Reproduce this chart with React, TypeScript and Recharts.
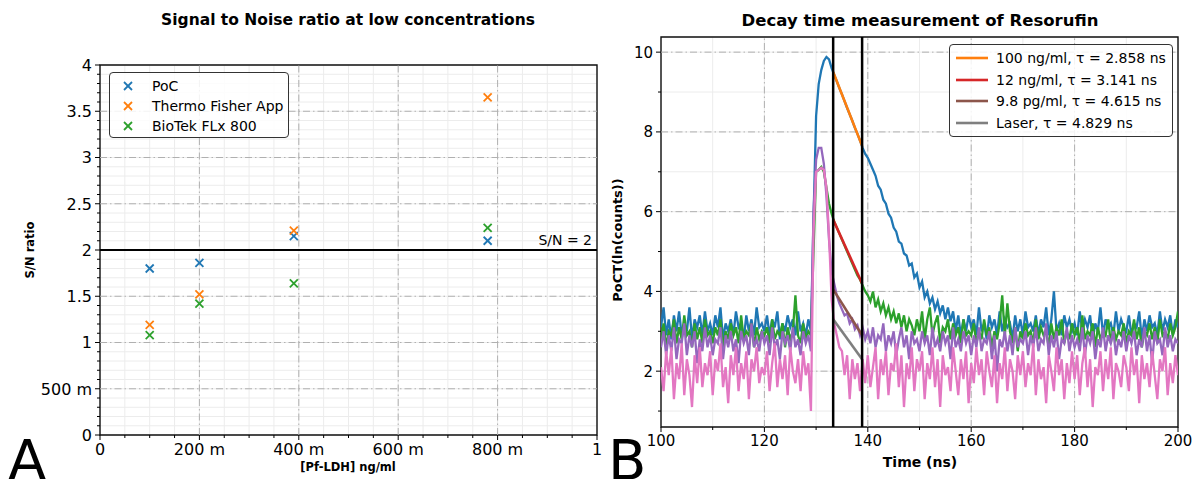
import React from "react";
import {
  ScatterChart,
  Scatter,
  LineChart,
  Line,
  XAxis,
  YAxis,
  CartesianGrid,
  ReferenceLine,
  ReferenceArea,
} from "recharts";

const FONT = "'DejaVu Sans', sans-serif";

// ---------- panel A : signal to noise ----------
const concentrations = [0.1, 0.2, 0.39, 0.78];
const pocRatio = [1.8, 1.86, 2.15, 2.1];
const thermoRatio = [1.19, 1.52, 2.21, 3.65];
const biotekRatio = [1.08, 1.42, 1.64, 2.24];

const snSeries = [
  { name: "PoC", color: "#1f77b4", values: pocRatio },
  { name: "Thermo Fisher App", color: "#ff7f0e", values: thermoRatio },
  { name: "BioTek FLx 800", color: "#2ca02c", values: biotekRatio },
];

const aXTicks = [0, 0.05, 0.1, 0.15, 0.2, 0.25, 0.3, 0.35, 0.4, 0.45, 0.5, 0.55, 0.6, 0.65, 0.7, 0.75, 0.8, 0.85, 0.9, 0.95, 1];
const aXMajor = [0, 0.2, 0.4, 0.6, 0.8, 1];
const aXLabels = ["0", "200 m", "400 m", "600 m", "800 m", "1"];
const aYTicks = [
  0, 0.1, 0.2, 0.3, 0.4, 0.5, 0.6, 0.7, 0.8, 0.9, 1, 1.1, 1.2, 1.3, 1.4, 1.5, 1.6, 1.7, 1.8, 1.9, 2,
  2.1, 2.2, 2.3, 2.4, 2.5, 2.6, 2.7, 2.8, 2.9, 3, 3.1, 3.2, 3.3, 3.4, 3.5, 3.6, 3.7, 3.8, 3.9, 4,
];
const aYMajor = [0, 0.5, 1, 1.5, 2, 2.5, 3, 3.5, 4];
const aYLabels = ["0", "500 m", "1", "1.5", "2", "2.5", "3", "3.5", "4"];
const threshold = 2;

// ---------- panel B : decay traces, one sample every 0.5 ns from 100 ns ----------
const sampleStart = 100;
const sampleStep = 0.5;

const counts100ng = [
  3.1, 3.6, 2.9, 3.3, 2.8, 3.4, 3.0, 3.5, 2.9, 3.2, 3.0, 3.6, 2.8, 3.3, 3.1, 3.4, 2.9, 3.5, 3.0, 3.2,
  2.9, 3.4, 3.1, 3.6, 2.8, 3.2, 3.0, 3.3, 2.9, 3.5, 3.1, 3.2, 2.8, 3.4, 3.0, 3.3, 2.9, 3.6, 3.1, 3.2,
  3.0, 3.4, 2.9, 3.3, 3.1, 3.5, 2.8, 3.2, 3.0, 3.4, 3.1, 3.3, 2.9, 3.5, 3.0, 3.2, 2.9, 3.3, 3.0, 5.8,
  8.4, 9.2, 9.55, 9.78, 9.88, 9.82, 9.6, 9.43, 9.27, 9.1, 8.94, 8.77, 8.6, 8.44, 8.28, 8.1, 7.95, 7.78, 7.6, 7.45,
  7.35, 7.2, 7.05, 6.9, 6.65, 6.55, 6.3, 6.2, 5.95, 5.85, 5.6, 5.5, 5.25, 5.2, 4.95, 4.9, 4.65, 4.7, 4.35, 4.45,
  4.1, 4.25, 3.85, 4.0, 3.7, 3.85, 3.55, 3.75, 3.45, 3.65, 3.3, 3.6, 3.25, 3.5, 3.0, 3.4, 2.9, 3.3, 3.0, 3.4,
  3.1, 3.3, 2.9, 3.6, 3.0, 3.2, 2.8, 3.4, 3.1, 3.3, 2.9, 3.5, 3.0, 3.3, 3.1, 3.2, 2.8, 3.4, 3.0, 3.3,
  2.9, 3.5, 3.1, 3.2, 3.0, 3.4, 2.9, 3.3, 3.1, 3.6, 2.9, 3.3, 4.0, 3.0, 3.2, 2.9, 3.4, 3.1, 3.3, 3.0,
  3.2, 2.9, 3.5, 3.0, 3.3, 3.1, 3.4, 2.8, 3.2, 3.0, 3.6, 2.9, 3.3, 3.1, 3.2, 2.9, 3.5, 3.0, 3.3, 3.1,
  3.0, 3.4, 2.9, 3.2, 3.1, 3.5, 2.8, 3.3, 3.0, 3.4, 3.1, 3.2, 2.9, 3.5, 3.0, 3.3, 3.1, 3.4, 2.9, 3.3,
  3.1,
];

const counts12ng = [
  2.8, 3.2, 2.6, 3.0, 2.9, 3.3, 2.7, 3.1, 2.8, 3.4, 2.9, 3.0, 2.6, 3.2, 2.8, 3.1, 2.7, 3.3, 2.9, 3.0,
  2.7, 3.1, 2.9, 3.3, 2.6, 3.0, 2.8, 3.2, 2.9, 3.1, 2.7, 3.4, 2.8, 3.0, 2.9, 3.2, 2.6, 3.1, 2.8, 3.0,
  2.9, 3.1, 2.7, 3.3, 2.8, 3.0, 2.9, 3.2, 2.6, 3.1, 2.8, 3.0, 3.9, 2.9, 2.7, 3.2, 2.8, 3.0, 2.9, 5.0,
  7.0, 7.05, 7.12, 7.0, 6.6, 6.2, 5.95, 5.75, 5.6, 5.45, 5.3, 5.15, 5.0, 4.85, 4.7, 4.55, 4.4, 4.3, 4.15, 4.0,
  3.9, 3.75, 4.0, 3.6, 3.8, 3.5, 3.7, 3.4, 3.6, 3.3, 3.5, 3.2, 3.45, 3.1, 3.4, 3.0, 3.3, 3.15, 2.9, 3.3,
  3.0, 3.5, 2.8, 3.3, 3.6, 2.9, 3.2, 3.4, 2.7, 3.1, 3.0, 3.3, 2.8, 3.2, 2.9, 3.1, 2.7, 3.3, 2.9, 3.0,
  2.9, 3.2, 2.7, 3.0, 2.8, 3.3, 2.9, 3.1, 2.6, 3.0, 2.8, 3.2, 3.9, 2.9, 3.7, 3.0, 2.7, 3.1, 2.5, 3.0,
  2.8, 3.2, 2.9, 3.0, 2.7, 3.3, 2.8, 3.1, 2.9, 3.0, 2.6, 3.2, 2.8, 3.1, 2.9, 3.3, 2.7, 3.0, 2.8, 3.2,
  2.9, 3.1, 2.7, 3.4, 2.8, 3.0, 2.9, 3.2, 2.6, 3.1, 2.8, 3.0, 2.9, 3.3, 2.7, 3.1, 2.8, 3.0, 2.9, 3.2,
  2.7, 3.0, 2.9, 3.3, 2.8, 3.1, 2.6, 3.0, 2.9, 3.2, 2.8, 3.1, 2.7, 3.3, 2.9, 3.0, 2.8, 3.2, 2.9, 3.1,
  3.5,
];

const counts9pg = [
  2.6, 3.0, 2.4, 2.9, 2.5, 3.1, 2.3, 2.8, 2.7, 3.2, 2.4, 2.9, 2.6, 3.0, 2.2, 2.8, 2.5, 3.1, 2.6, 2.9,
  2.4, 2.8, 2.7, 3.1, 2.3, 2.9, 2.6, 3.0, 2.5, 2.8, 2.2, 3.0, 2.7, 2.9, 2.4, 3.2, 2.6, 2.8, 2.5, 3.0,
  2.7, 2.9, 2.4, 3.1, 2.6, 2.8, 2.3, 3.0, 2.7, 2.9, 2.5, 3.1, 2.6, 2.8, 2.4, 3.0, 2.7, 2.9, 2.5, 6.0,
  7.3, 7.6, 7.6, 7.2, 6.4, 5.3, 4.5, 4.2, 3.9, 3.7, 3.55, 3.4, 3.45, 3.2, 3.3, 3.05, 3.15, 2.9, 3.1, 2.8,
  3.0, 2.7, 3.1, 2.6, 2.9, 2.8, 3.2, 2.5, 2.9, 2.7, 3.0, 2.4, 2.8, 3.1, 2.6, 2.9, 2.3, 3.0, 2.7, 2.8,
  2.5, 3.0, 2.7, 2.9, 2.4, 3.1, 2.6, 2.8, 2.5, 3.0, 2.7, 2.9, 2.3, 3.1, 2.6, 2.8, 2.5, 3.0, 2.7, 2.9,
  2.4, 2.9, 2.6, 3.1, 2.5, 2.8, 2.7, 3.0, 2.3, 2.9, 2.0, 2.8, 2.6, 3.0, 2.5, 2.9, 2.4, 3.1, 2.6, 2.8,
  2.7, 3.0, 2.4, 2.9, 2.6, 3.1, 2.5, 2.8, 2.7, 3.2, 2.4, 2.9, 2.6, 3.0, 2.3, 2.8, 2.7, 3.1, 2.5, 2.9,
  2.6, 2.8, 2.5, 3.1, 2.4, 2.9, 2.7, 3.0, 2.3, 2.8, 2.6, 3.1, 2.5, 2.9, 2.7, 3.0, 2.4, 2.8, 2.6, 3.0,
  2.5, 2.9, 2.7, 3.0, 2.4, 2.8, 2.6, 3.1, 2.5, 2.9, 2.2, 3.0, 2.7, 2.8, 2.4, 3.1, 2.6, 2.9, 2.5, 2.8,
  2.7,
];

const countsLaser = [
  2.1, 1.5, 2.5, 1.9, 2.6, 1.3, 2.2, 1.8, 2.7, 1.4, 2.3, 1.9, 1.1, 2.4, 1.7, 2.6, 1.6, 2.2, 1.9, 2.5,
  1.4, 2.3, 2.0, 2.7, 1.6, 2.1, 1.2, 2.4, 1.9, 2.6, 1.5, 2.2, 1.8, 2.5, 1.3, 2.3, 2.0, 2.6, 1.7, 2.1,
  1.9, 2.5, 1.5, 2.2, 2.7, 1.6, 2.3, 1.8, 2.4, 1.4, 2.6, 2.0, 1.7, 2.3, 1.5, 2.5, 1.9, 2.2, 1.0, 5.5,
  7.0, 7.05, 7.1, 7.05, 6.6, 5.4, 3.8, 3.2, 2.9, 2.6, 2.5, 1.9, 2.4, 1.3, 2.3, 1.8, 2.2, 1.5, 2.3, 1.7,
  2.4, 1.6, 2.1, 2.6, 1.3, 2.3, 1.9, 2.5, 1.4, 2.2, 2.0, 2.7, 1.6, 2.4, 1.1, 2.2, 1.8, 2.6, 1.5, 2.3,
  2.0, 2.5, 1.3, 2.2, 1.8, 2.6, 1.6, 2.3, 1.1, 2.4, 1.9, 2.1, 1.5, 2.6, 2.0, 1.4, 2.3, 1.8, 2.5, 1.2,
  2.2, 1.7, 2.6, 1.9, 2.3, 1.4, 2.5, 2.0, 1.6, 2.4, 1.2, 2.2, 1.8, 2.6, 1.5, 2.3, 2.0, 1.3, 2.4, 1.9,
  2.5, 1.6, 2.2, 1.9, 2.7, 1.4, 2.3, 1.8, 2.1, 1.2, 2.4, 2.0, 1.5, 2.6, 1.9, 2.3, 1.3, 2.2, 1.7, 2.5,
  1.8, 2.4, 1.4, 2.2, 2.6, 1.6, 2.3, 1.1, 2.1, 1.9, 2.5, 1.5, 2.3, 1.8, 2.6, 1.3, 2.2, 2.0, 1.6, 2.4,
  2.1, 1.5, 2.6, 1.9, 2.3, 1.2, 2.4, 1.8, 2.2, 1.6, 2.5, 1.9, 1.3, 2.3, 2.0, 2.6, 1.4, 2.2, 1.7, 2.4,
  1.9,
];

// fitted exponential decays (straight in ln), drawn between the two gate markers
const fitWindow = [133.3, 138.9];
const fit100ng = [9.5, 7.65];
const fit12ng = [5.8, 4.2];
const fit9pg = [4.05, 2.9];
const fitLaser = [3.3, 2.3];

const decaySeries = [
  { name: "100 ng/ml, τ = 2.858 ns", counts: counts100ng, dataColor: "#1f77b4", fit: fit100ng, fitColor: "#ff7f0e" },
  { name: "12 ng/ml, τ = 3.141 ns", counts: counts12ng, dataColor: "#2ca02c", fit: fit12ng, fitColor: "#d62728" },
  { name: "9.8 pg/ml, τ = 4.615 ns", counts: counts9pg, dataColor: "#9467bd", fit: fit9pg, fitColor: "#8c564b" },
  { name: "Laser, τ = 4.829 ns", counts: countsLaser, dataColor: "#e377c2", fit: fitLaser, fitColor: "#7f7f7f" },
];

const bXTicks = [100, 110, 120, 130, 140, 150, 160, 170, 180, 190, 200];
const bXMajor = [100, 120, 140, 160, 180, 200];
const bXLabels = ["100", "120", "140", "160", "180", "200"];
const bYTicks = [1, 2, 3, 4, 5, 6, 7, 8, 9, 10];
const bYMajor = [2, 4, 6, 8, 10];
const bYLabels = ["2", "4", "6", "8", "10"];
const bYDomain = [0.6, 10.38];

const toPoints = (vals: number[]) => vals.map((v, i) => ({ t: sampleStart + i * sampleStep, v }));

// ---------- helpers ----------
function bottomTick(majors: number[], labels: string[], fontSize: number) {
  return (props: any) => {
    const { x, y, payload } = props;
    const k = majors.indexOf(payload.value);
    return (
      <g>
        <line x1={x} x2={x} y1={y} y2={y + (k >= 0 ? 5 : 3)} stroke="#000" strokeWidth={1} />
        {k >= 0 && (
          <text x={x} y={y + 7} dy="0.8em" textAnchor="middle" fontSize={fontSize} fontFamily={FONT} fill="#000">
            {labels[k]}
          </text>
        )}
      </g>
    );
  };
}

function leftTick(majors: number[], labels: string[], fontSize: number) {
  return (props: any) => {
    const { x, y, payload } = props;
    const k = majors.indexOf(payload.value);
    return (
      <g>
        <line x1={x - (k >= 0 ? 5 : 3)} x2={x} y1={y} y2={y} stroke="#000" strokeWidth={1} />
        {k >= 0 && (
          <text x={x - 8} y={y} dy="0.36em" textAnchor="end" fontSize={fontSize} fontFamily={FONT} fill="#000">
            {labels[k]}
          </text>
        )}
      </g>
    );
  };
}

const cross = (color: string) => (props: any) => {
  const { cx, cy } = props;
  return (
    <g stroke={color} strokeWidth={1.8}>
      <line x1={cx - 4} y1={cy - 4} x2={cx + 4} y2={cy + 4} />
      <line x1={cx - 4} y1={cy + 4} x2={cx + 4} y2={cy - 4} />
    </g>
  );
};

const abs = (x: number, y: number, extra: React.CSSProperties = {}): React.CSSProperties => ({
  position: "absolute",
  left: x,
  top: y,
  transform: "translate(-50%, -50%)",
  whiteSpace: "nowrap",
  fontFamily: FONT,
  color: "#000",
  ...extra,
});

const MAJOR_STROKE = "#b0b0b0";
const MAJOR_DASH = "7 3 1.5 3";
const MINOR_GRID = "#ececec";

export default function App() {
  return (
    <div style={{ position: "absolute", left: 0, top: 0, width: 1195, height: 479, background: "#fff", overflow: "hidden" }}>
      {/* panel A */}
      <div style={{ position: "absolute", left: 0, top: 0 }}>
        <ScatterChart width={612} height={479} margin={{ top: 65, right: 15, bottom: 4, left: 0 }}>
          <CartesianGrid stroke={MINOR_GRID} />
          <XAxis
            type="number"
            dataKey="x"
            domain={[0, 1]}
            ticks={aXTicks}
            interval={0}
            height={40}
            tickSize={0}
            tickMargin={0}
            axisLine={false}
            tick={bottomTick(aXMajor, aXLabels, 16)}
          />
          <YAxis
            type="number"
            dataKey="y"
            domain={[0, 4]}
            ticks={aYTicks}
            interval={0}
            width={100}
            tickSize={0}
            tickMargin={0}
            axisLine={false}
            tick={leftTick(aYMajor, aYLabels, 16)}
          />
          {aXMajor.slice(1, -1).map((v) => (
            <ReferenceLine key={"ax" + v} x={v} stroke={MAJOR_STROKE} strokeDasharray={MAJOR_DASH} />
          ))}
          {aYMajor.slice(1, -1).map((v) => (
            <ReferenceLine key={"ay" + v} y={v} stroke={MAJOR_STROKE} strokeDasharray={MAJOR_DASH} />
          ))}
          <ReferenceArea x1={0} x2={1} y1={0} y2={4} fill="none" stroke="#111" strokeWidth={1.4} ifOverflow="visible" />
          <ReferenceLine
            y={threshold}
            stroke="#000"
            strokeWidth={2}
            label={{ value: "S/N = 2", position: "insideBottomRight", fill: "#000", fontSize: 14, fontFamily: FONT }}
          />
          {snSeries.map((s) => (
            <Scatter
              key={s.name}
              name={s.name}
              data={concentrations.map((c, i) => ({ x: c, y: s.values[i] }))}
              shape={cross(s.color)}
              isAnimationActive={false}
            />
          ))}
        </ScatterChart>
      </div>

      <div style={abs(348, 20, { fontSize: 15.5, fontWeight: "bold" })}>Signal to Noise ratio at low concentrations</div>
      <div style={abs(348, 467, { fontSize: 11.5, fontWeight: "bold" })}>[Pf-LDH] ng/ml</div>
      <div style={abs(30, 250, { fontSize: 11.5, fontWeight: "bold", transform: "translate(-50%, -50%) rotate(-90deg)" })}>
        S/N ratio
      </div>
      <div style={{ position: "absolute", left: 8, top: 432, fontSize: 56, fontFamily: FONT, lineHeight: "56px" }}>A</div>

      <div
        style={{
          position: "absolute",
          left: 109,
          top: 72,
          width: 180,
          height: 66,
          boxSizing: "border-box",
          border: "1.3px solid #333",
          borderRadius: 4,
          background: "rgba(255,255,255,0.85)",
          fontFamily: FONT,
          fontSize: 14,
          whiteSpace: "nowrap",
        }}
      >
        {snSeries.map((s, i) => (
          <div key={s.name} style={{ position: "absolute", left: 0, top: 3 + i * 20, height: 20, display: "flex", alignItems: "center" }}>
            <svg width={42} height={20}>
              <g stroke={s.color} strokeWidth={1.8}>
                <line x1={14} y1={6} x2={22} y2={14} />
                <line x1={14} y1={14} x2={22} y2={6} />
              </g>
            </svg>
            <span>{s.name}</span>
          </div>
        ))}
      </div>

      {/* panel B */}
      <div style={{ position: "absolute", left: 600, top: 0 }}>
        <LineChart width={595} height={479} margin={{ top: 37, right: 17, bottom: 25, left: 0 }}>
          <CartesianGrid stroke={MINOR_GRID} />
          <XAxis
            type="number"
            dataKey="t"
            domain={[100, 200]}
            ticks={bXTicks}
            interval={0}
            height={27}
            tickSize={0}
            tickMargin={0}
            axisLine={false}
            allowDataOverflow
            tick={bottomTick(bXMajor, bXLabels, 15)}
          />
          <YAxis
            type="number"
            domain={bYDomain}
            ticks={bYTicks}
            interval={0}
            width={61}
            tickSize={0}
            tickMargin={0}
            axisLine={false}
            allowDataOverflow
            tick={leftTick(bYMajor, bYLabels, 15)}
          />
          {bXMajor.slice(1, -1).map((v) => (
            <ReferenceLine key={"bx" + v} x={v} stroke={MAJOR_STROKE} strokeDasharray={MAJOR_DASH} />
          ))}
          {bYMajor.map((v) => (
            <ReferenceLine key={"by" + v} y={v} stroke={MAJOR_STROKE} strokeDasharray={MAJOR_DASH} />
          ))}
          <ReferenceArea x1={100} x2={200} y1={bYDomain[0]} y2={bYDomain[1]} fill="none" stroke="#111" strokeWidth={1.4} ifOverflow="visible" />
          {decaySeries.flatMap((s) => [
            <Line
              key={s.name + "-data"}
              data={toPoints(s.counts)}
              dataKey="v"
              type="linear"
              stroke={s.dataColor}
              strokeWidth={2.3}
              dot={false}
              isAnimationActive={false}
            />,
            <Line
              key={s.name + "-fit"}
              data={fitWindow.map((t, i) => ({ t, v: s.fit[i] }))}
              dataKey="v"
              name={s.name}
              type="linear"
              stroke={s.fitColor}
              strokeWidth={2.6}
              dot={false}
              isAnimationActive={false}
            />,
          ])}
          {fitWindow.map((t) => (
            <ReferenceLine key={t} x={t} stroke="#000" strokeWidth={2.5} />
          ))}
        </LineChart>
      </div>

      <div style={abs(920, 20, { fontSize: 16.5, fontWeight: "bold" })}>Decay time measurement of Resorufin</div>
      <div style={abs(920, 462, { fontSize: 14, fontWeight: "bold" })}>Time (ns)</div>
      <div style={abs(617, 240, { fontSize: 13, fontWeight: "bold", transform: "translate(-50%, -50%) rotate(-90deg)" })}>
        PoCT(ln(counts))
      </div>
      <div style={{ position: "absolute", left: 608, top: 432, fontSize: 56, fontFamily: FONT, lineHeight: "56px" }}>B</div>

      <div
        style={{
          position: "absolute",
          left: 949,
          top: 44,
          width: 224,
          height: 93,
          boxSizing: "border-box",
          border: "1.3px solid #333",
          borderRadius: 4,
          background: "rgba(255,255,255,0.85)",
          fontFamily: FONT,
          fontSize: 14,
          whiteSpace: "nowrap",
        }}
      >
        {decaySeries.map((s, i) => (
          <div key={s.name} style={{ position: "absolute", left: 0, top: 2 + i * 21.7, height: 22, display: "flex", alignItems: "center" }}>
            <svg width={46} height={22}>
              <line x1={6} y1={11} x2={38} y2={11} stroke={s.fitColor} strokeWidth={2.6} />
            </svg>
            <span>{s.name}</span>
          </div>
        ))}
      </div>
    </div>
  );
}
